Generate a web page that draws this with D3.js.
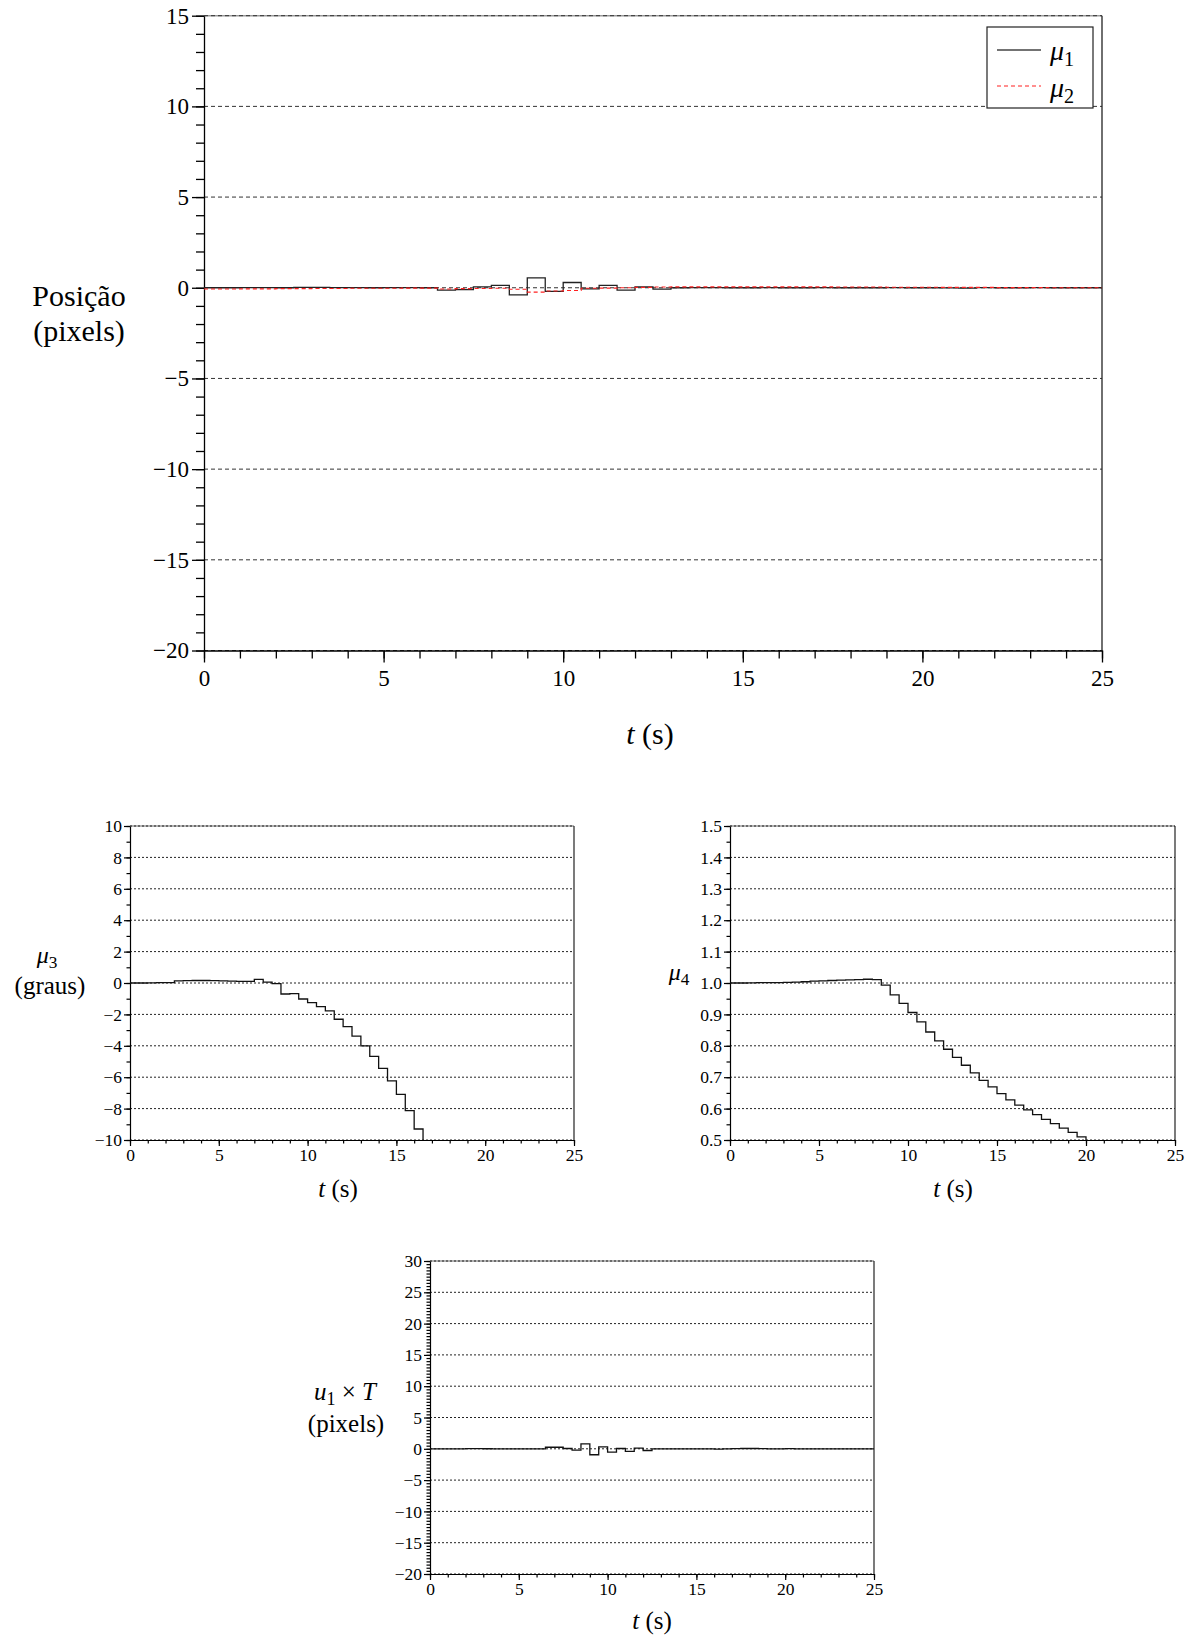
<!DOCTYPE html>
<html><head><meta charset="utf-8">
<script src="https://cdn.jsdelivr.net/npm/d3@7"></script>
<style>
body{margin:0;background:#fff}
svg{display:block}
</style>
</head><body>
<svg id="c" width="1191" height="1639"></svg>
<script>
const FONT="Liberation Serif";
// ---- data (sample instants, s) ----
const tSteps=[0,0.5,1,1.5,2,2.5,3,3.5,4,4.5,5,5.5,6,6.5,7,7.5,8,8.5,9,9.5,10,10.5,11,11.5,12,12.5,13,13.5,14,14.5,15,15.5,16,16.5,17,17.5,18,18.5,19,19.5,20,20.5,21,21.5,22,22.5,23,23.5,24,24.5,25];
// mu1, mu2 : position (pixels), held between samples
const mu1=[0.0,0.0,0.01,0.01,0.0,0.02,0.02,0.01,0.01,0.0,0.01,0.01,0.0,
 -0.13,-0.1,0.05,0.13,-0.39,0.55,-0.2,0.29,-0.06,0.13,-0.13,0.05,-0.07,
 0.0,0.01,0.01,0.0,0.0,0.01,0.0,0.0,0.01,0.0,0.0,0.0,0.01,0.0,0.0,-0.01,-0.02,0.01,0.0,0.0,0.01,0.0,0.0,0.0];
const mu2=[-0.07,-0.07,-0.06,-0.06,-0.05,-0.05,-0.04,-0.04,-0.03,-0.03,-0.03,-0.02,-0.02,
 -0.07,-0.05,-0.04,-0.03,-0.08,-0.24,-0.18,-0.15,-0.03,-0.02,0.0,0.02,0.04,
 0.05,0.05,0.05,0.05,0.05,0.05,0.05,0.05,0.05,0.04,0.04,0.04,0.03,0.03,0.03,0.02,0.02,0.02,0.01,0.01,0.01,0.0,0.0,0.0];
// mu3 (graus)
const mu3=[0.0,0.0,0.01,0.02,0.03,0.13,0.15,0.16,0.16,0.15,0.14,0.12,0.1,0.1,0.23,0.06,-0.04,
 -0.7,-0.68,-1.02,-1.25,-1.5,-1.78,-2.31,-2.78,-3.38,-4.01,-4.67,-5.44,-6.24,-7.09,-8.13,-9.3,-10.5];
// mu4
const mu4=[1.0,1.0,1.0005,1.001,1.001,1.0015,1.002,1.003,1.004,1.006,1.007,1.008,1.009,1.01,1.011,1.012,1.011,
 0.993,0.962,0.935,0.906,0.876,0.844,0.816,0.789,0.763,0.738,0.714,0.69,0.669,0.648,0.628,0.611,0.596,0.581,0.566,0.552,0.538,0.524,0.51,0.49];
// u1 x T (pixels)
const u1=[0.0,0.0,0.0,0.0,0.03,0.03,0.01,0.0,0.0,0.0,0.0,-0.02,0.0,
 0.25,0.25,0.05,-0.2,0.8,-0.95,0.32,-0.53,0.05,-0.42,0.1,-0.27,
 0.0,0.0,0.0,0.0,0.0,0.0,0.0,-0.05,0.0,0.04,0.05,0.05,0.04,0.0,0.0,0.03,0.0,0.0,-0.02,-0.02,-0.02,0.0,0.0,0.0,0.0];
// tick labels
const xTickVals=[0,5,10,15,20,25];
const posTicks=[-20,-15,-10,-5,0,5,10,15];
const mu3Ticks=[-10,-8,-6,-4,-2,0,2,4,6,8,10];
const mu4Ticks=[0.5,0.6,0.7,0.8,0.9,1.0,1.1,1.2,1.3,1.4,1.5];
const u1Ticks=[-20,-15,-10,-5,0,5,10,15,20,25,30];

const svg=d3.select("#c");
const defs=svg.append("defs");
function stepPts(vals){const p=vals.map((v,i)=>[tSteps[i],v]);p.push([tSteps[vals.length],vals[vals.length-1]]);return p;}
function minorVals(lo,hi,step){const a=[];const n=Math.round((hi-lo)/step);for(let i=0;i<=n;i++)a.push(+(lo+i*step).toFixed(4));return a;}

function chart(o){
  const x=d3.scaleLinear().domain([0,25]).range([o.l,o.r]);
  const y=d3.scaleLinear().domain(o.yDomain).range([o.b,o.t]);
  const g=svg.append("g");
  defs.append("clipPath").attr("id","clip"+o.id).append("rect")
    .attr("x",o.l).attr("y",o.t).attr("width",o.r-o.l).attr("height",o.b-o.t);
  // top frame (light) under grid
  g.append("line").attr("x1",o.l).attr("x2",o.r).attr("y1",o.t).attr("y2",o.t)
    .attr("stroke","#9a9a9a").attr("stroke-width",1.6);
  // grid
  g.append("g").selectAll("line").data(o.yTicks).join("line")
    .attr("x1",o.l).attr("x2",o.r).attr("y1",d=>y(d)).attr("y2",d=>y(d))
    .attr("stroke",o.gridColor).attr("stroke-width",o.gridW).attr("stroke-dasharray",o.dash);
  // minor ticks
  g.append("g").attr("transform",`translate(${o.l},0)`)
    .call(d3.axisLeft(y).tickValues(minorVals(o.yDomain[0],o.yDomain[1],o.yMinor)).tickSize(o.minor).tickSizeOuter(0).tickFormat(""))
    .call(s=>s.select(".domain").remove());
  g.append("g").attr("transform",`translate(0,${o.b})`)
    .call(d3.axisBottom(x).tickValues(minorVals(0,25,1)).tickSize(o.minor).tickSizeOuter(0).tickFormat(""))
    .call(s=>s.select(".domain").remove());
  // major axes
  const ya=g.append("g").attr("transform",`translate(${o.l},0)`)
    .call(d3.axisLeft(y).tickValues(o.yTicks).tickSize(o.major).tickSizeOuter(0).tickPadding(o.ypad).tickFormat(o.yFmt));
  const xa=g.append("g").attr("transform",`translate(0,${o.b})`)
    .call(d3.axisBottom(x).tickValues(xTickVals).tickSize(o.major).tickSizeOuter(0).tickPadding(o.xpad).tickFormat(d3.format("d")));
  [ya,xa].forEach(a=>{a.attr("font-size",null).attr("font-family",null);
    a.selectAll("text").attr("font-size",o.fs).attr("font-family",FONT).attr("fill","#000");
    a.selectAll("line,path").attr("stroke","#000").attr("stroke-width",o.axW);});
  g.selectAll(".tick line").attr("stroke","#000").attr("stroke-width",o.axW);
  // right border
  g.append("line").attr("x1",o.r).attr("x2",o.r).attr("y1",o.t).attr("y2",o.b).attr("stroke","#222").attr("stroke-width",o.axW);
  // series
  const line=d3.line().x(d=>x(d[0])).y(d=>y(d[1])).curve(d3.curveStepAfter);
  o.series.forEach(s=>{
    g.append("path").attr("d",line(stepPts(s.vals))).attr("fill","none")
      .attr("stroke",s.color).attr("stroke-width",s.w).attr("stroke-dasharray",s.dash||null)
      .attr("clip-path",`url(#clip${o.id})`);
  });
  return {x,y,g};
}

const fmtMinus=d3.format("d");
chart({id:"a",l:204,r:1102,t:15.7,b:650.5,yDomain:[-20,15],yTicks:posTicks,yMinor:1,
  major:12,minor:8,fs:23,ypad:3,xpad:7,dash:"4,3",gridColor:"#333",gridW:1,axW:1.3,yFmt:fmtMinus,
  series:[{vals:mu1,color:"#222",w:1.3},{vals:mu2,color:"#ff2020",w:1.1,dash:"4,3"}]});
chart({id:"b",l:130,r:574,t:826,b:1140,yDomain:[-10,10],yTicks:mu3Ticks,yMinor:1,
  major:6,minor:3.5,fs:17.5,ypad:2,xpad:3,dash:"2,2",gridColor:"#222",gridW:1,axW:1.2,yFmt:fmtMinus,
  series:[{vals:mu3,color:"#111",w:1.3}]});
chart({id:"c",l:730,r:1175,t:826,b:1140,yDomain:[0.5,1.5],yTicks:mu4Ticks,yMinor:0.05,
  major:6,minor:3.5,fs:17.5,ypad:2,xpad:3,dash:"2,2",gridColor:"#222",gridW:1,axW:1.2,yFmt:d3.format(".1f"),
  series:[{vals:mu4,color:"#111",w:1.3}]});
chart({id:"d",l:430,r:874,t:1261,b:1574,yDomain:[-20,30],yTicks:u1Ticks,yMinor:0.5,
  major:6,minor:3.5,fs:17.5,ypad:2,xpad:3,dash:"2,2",gridColor:"#222",gridW:1,axW:1.2,yFmt:fmtMinus,
  series:[{vals:u1,color:"#111",w:1.3}]});

// ---- text labels ----
function txt(x,y,size,anchor){return svg.append("text").attr("x",x).attr("y",y).attr("text-anchor",anchor||"middle")
  .attr("font-size",size).attr("font-family",FONT).attr("fill","#000");}
function tlabel(x,y,size){ // t (s)
  const t=txt(x,y,size);
  t.append("tspan").attr("font-style","italic").text("t");
  t.append("tspan").text(" (s)");
}
function mulabel(x,y,size,sub,anchor){
  const t=txt(x,y,size,anchor);
  t.append("tspan").attr("font-style","italic").text("μ");
  t.append("tspan").attr("font-size",size*0.72).attr("dy",size*0.22).text(sub);
  return t;
}
// top chart
txt(79,306,30).text("Posição");
txt(79,341,30).text("(pixels)");
tlabel(650,744,30);
// legend
svg.append("rect").attr("x",987).attr("y",27).attr("width",106).attr("height",81).attr("fill","#fff").attr("stroke","#222").attr("stroke-width",1.2);
svg.append("line").attr("x1",997).attr("x2",1041).attr("y1",50).attr("y2",50).attr("stroke","#444").attr("stroke-width",1.3);
svg.append("line").attr("x1",997).attr("x2",1041).attr("y1",86).attr("y2",86).attr("stroke","#ff2020").attr("stroke-width",1.1).attr("stroke-dasharray","4,3");
mulabel(1050,60,28,"1","start");
mulabel(1050,97,28,"2","start");
// mu3 chart
mulabel(47,963,24,"3");
txt(50,994,25).text("(graus)");
tlabel(338,1197,25);
// mu4 chart
mulabel(679,980,24,"4");
tlabel(953,1197,25);
// u1 chart
{const t=txt(345,1400,25);
 t.append("tspan").attr("font-style","italic").text("u");
 t.append("tspan").attr("font-size",18).attr("dy",5).text("1");
 t.append("tspan").attr("dy",-5).text(" × ");
 t.append("tspan").attr("font-style","italic").text("T");}
txt(346,1432,25).text("(pixels)");
tlabel(652,1629,25);
</script>
</body></html>
